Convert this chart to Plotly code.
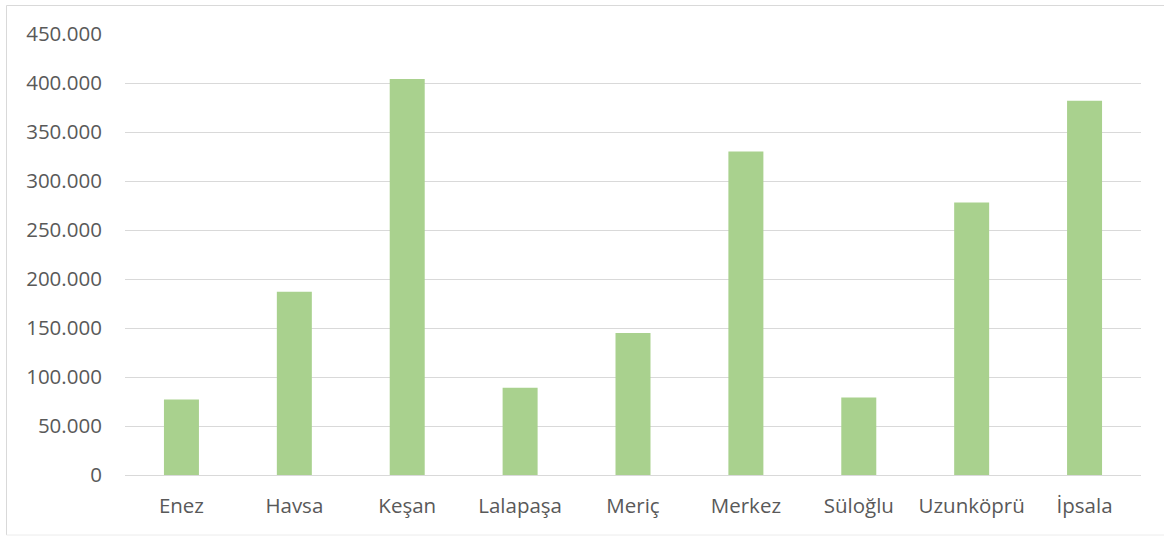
import plotly.graph_objects as go

categories = ["Enez", "Havsa", "Keşan", "Lalapaşa", "Meriç", "Merkez", "Süloğlu", "Uzunköprü", "İpsala"]
values = [77000, 187000, 404000, 89000, 145000, 330000, 79000, 278000, 382000]
tick_vals = [0, 50000, 100000, 150000, 200000, 250000, 300000, 350000, 400000, 450000]
tick_text = ["0", "50.000", "100.000", "150.000", "200.000", "250.000", "300.000", "350.000", "400.000", "450.000"]

W, H = 1164, 536
L, R, T, B = 125, 23, 34, 61
pw, ph = W - L - R, H - T - B

fig = go.Figure(go.Bar(x=categories, y=values, marker=dict(color="#a9d18e", line=dict(width=0)),
                       hoverinfo="skip"))

fig.update_layout(
    width=W, height=H,
    margin=dict(l=L, r=R, t=T, b=B, pad=0),
    paper_bgcolor="white", plot_bgcolor="white",
    bargap=0.69,
    showlegend=False,
    font=dict(family="Open Sans", size=20.5, color="#595959"),
    xaxis=dict(showgrid=False, showline=False, zeroline=False,
               ticks="outside", ticklen=12, tickcolor="rgba(0,0,0,0)",
               tickfont=dict(family="Open Sans", size=20.5, color="#595959")),
    yaxis=dict(range=[0, 450000], tickvals=tick_vals, ticktext=tick_text,
               showgrid=True, gridcolor="#d9d9d9", gridwidth=1,
               zeroline=True, zerolinecolor="#d9d9d9", zerolinewidth=1,
               showline=False, ticks="outside", ticklen=18, tickcolor="rgba(0,0,0,0)",
               tickfont=dict(family="Open Sans", size=20.5, color="#595959")),
    shapes=[
        dict(type="line", xref="paper", yref="paper",
             x0=(6.5 - L) / pw, x1=(W - L) / pw, y0=(T + ph - 5.5) / ph, y1=(T + ph - 5.5) / ph,
             line=dict(color="#d9d9d9", width=1)),
        dict(type="line", xref="paper", yref="paper",
             x0=(6.5 - L) / pw, x1=(6.5 - L) / pw, y0=(T + ph - 5.5) / ph, y1=(T + ph - 535) / ph,
             line=dict(color="#d9d9d9", width=1)),
        dict(type="line", xref="paper", yref="paper",
             x0=(6.5 - L) / pw, x1=(W - L) / pw, y0=(T + ph - 535) / ph, y1=(T + ph - 535) / ph,
             line=dict(color="#ececec", width=1)),
    ],
)

fig.write_html("out.html", config={"displayModeBar": False},
               post_script="document.body.style.margin='0';document.body.style.padding='0';")
